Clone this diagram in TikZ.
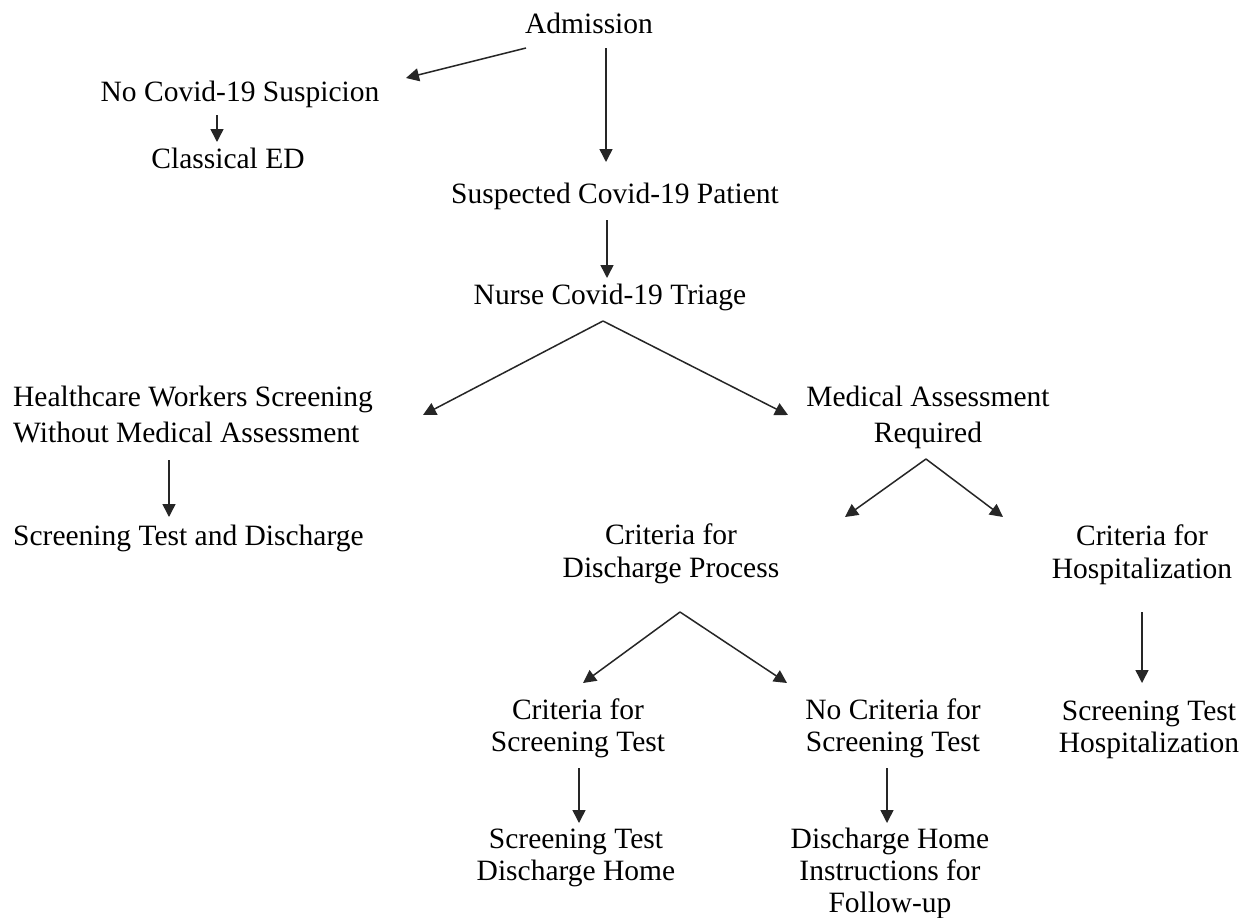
\documentclass[tikz,border=0pt]{standalone}
\usepackage{fontspec}
\setmainfont{Liberation Serif}
\usetikzlibrary{arrows.meta}
\begin{document}
\begin{tikzpicture}[x=1pt,y=-1pt,
  lbl/.style={inner sep=0pt,anchor=base,align=center,text=black,
    font=\fontsize{29.5}{34}\selectfont},
  wide/.style={font=\fontsize{29.5}{36}\selectfont},
  mid/.style={font=\fontsize{29.5}{33}\selectfont},
  tight/.style={font=\fontsize{29.5}{32}\selectfont},
  arr/.style={draw=black!85,line width=1.5pt,-{Triangle[length=13pt,width=13pt]}}]
\useasboundingbox[fill=white] (0,0) rectangle (1245,918);
% nodes (multi-line nodes are placed by the baseline of their last line)
\node[lbl] (adm) at (589,33) {Admission};
\node[lbl] (nocov) at (240,101) {No Covid-19 Suspicion};
\node[lbl] (ced) at (228,168) {Classical ED};
\node[lbl] (susp) at (615,203) {Suspected Covid-19 Patient};
\node[lbl] (nurse) at (610,304) {Nurse Covid-19 Triage};
\node[lbl,wide,anchor=base west,align=left] (hcw) at (13,442) {Healthcare Workers Screening\\Without Medical Assessment};
\node[lbl,wide] (med) at (928,442) {Medical Assessment\\Required};
\node[lbl,anchor=base west] (sttd) at (13,545) {Screening Test and Discharge};
\node[lbl,mid] (cdis) at (671,577) {Criteria for\\Discharge Process};
\node[lbl,mid] (chosp) at (1142,578) {Criteria for\\Hospitalization};
\node[lbl,tight] (cscr) at (578,751) {Criteria for\\Screening Test};
\node[lbl,tight] (ncscr) at (893,751) {No Criteria for\\Screening Test};
\node[lbl,tight] (sthosp) at (1149,752) {Screening Test\\Hospitalization};
\node[lbl,tight] (stdh) at (576,880) {Screening Test\\Discharge Home};
\node[lbl,tight] (dhome) at (890,912) {Discharge Home\\Instructions for\\Follow-up};
% connector end points
\coordinate (admL) at (526,48);  \coordinate (nocovT) at (406,78);
\coordinate (admD) at (606,48);  \coordinate (suspT) at (606,162);
\coordinate (nocovB) at (217,115); \coordinate (cedT) at (217,142);
\coordinate (suspB) at (607,220); \coordinate (nurseT) at (607,278);
\coordinate (nurseB) at (603,321);
\coordinate (hcwE) at (423,415); \coordinate (medW) at (788,415);
\coordinate (hcwB) at (169,460); \coordinate (sttdT) at (169,517);
\coordinate (medB) at (926,459);
\coordinate (cdisT) at (845,517); \coordinate (chospT) at (1003,517);
\coordinate (cdisB) at (680,612);
\coordinate (cscrT) at (583,683); \coordinate (ncscrT) at (787,683);
\coordinate (chospB) at (1142,612); \coordinate (sthospT) at (1142,683);
\coordinate (cscrB) at (579,768); \coordinate (stdhT) at (579,823);
\coordinate (ncscrB) at (887,768); \coordinate (dhomeT) at (887,823);
% connectors
\draw[arr] (admL) -- (nocovT);
\draw[arr] (admD) -- (suspT);
\draw[arr] (nocovB) -- (cedT);
\draw[arr] (suspB) -- (nurseT);
\draw[arr] (nurseB) -- (hcwE);
\draw[arr] (nurseB) -- (medW);
\draw[arr] (hcwB) -- (sttdT);
\draw[arr] (medB) -- (cdisT);
\draw[arr] (medB) -- (chospT);
\draw[arr] (cdisB) -- (cscrT);
\draw[arr] (cdisB) -- (ncscrT);
\draw[arr] (chospB) -- (sthospT);
\draw[arr] (cscrB) -- (stdhT);
\draw[arr] (ncscrB) -- (dhomeT);
\end{tikzpicture}
\end{document}
